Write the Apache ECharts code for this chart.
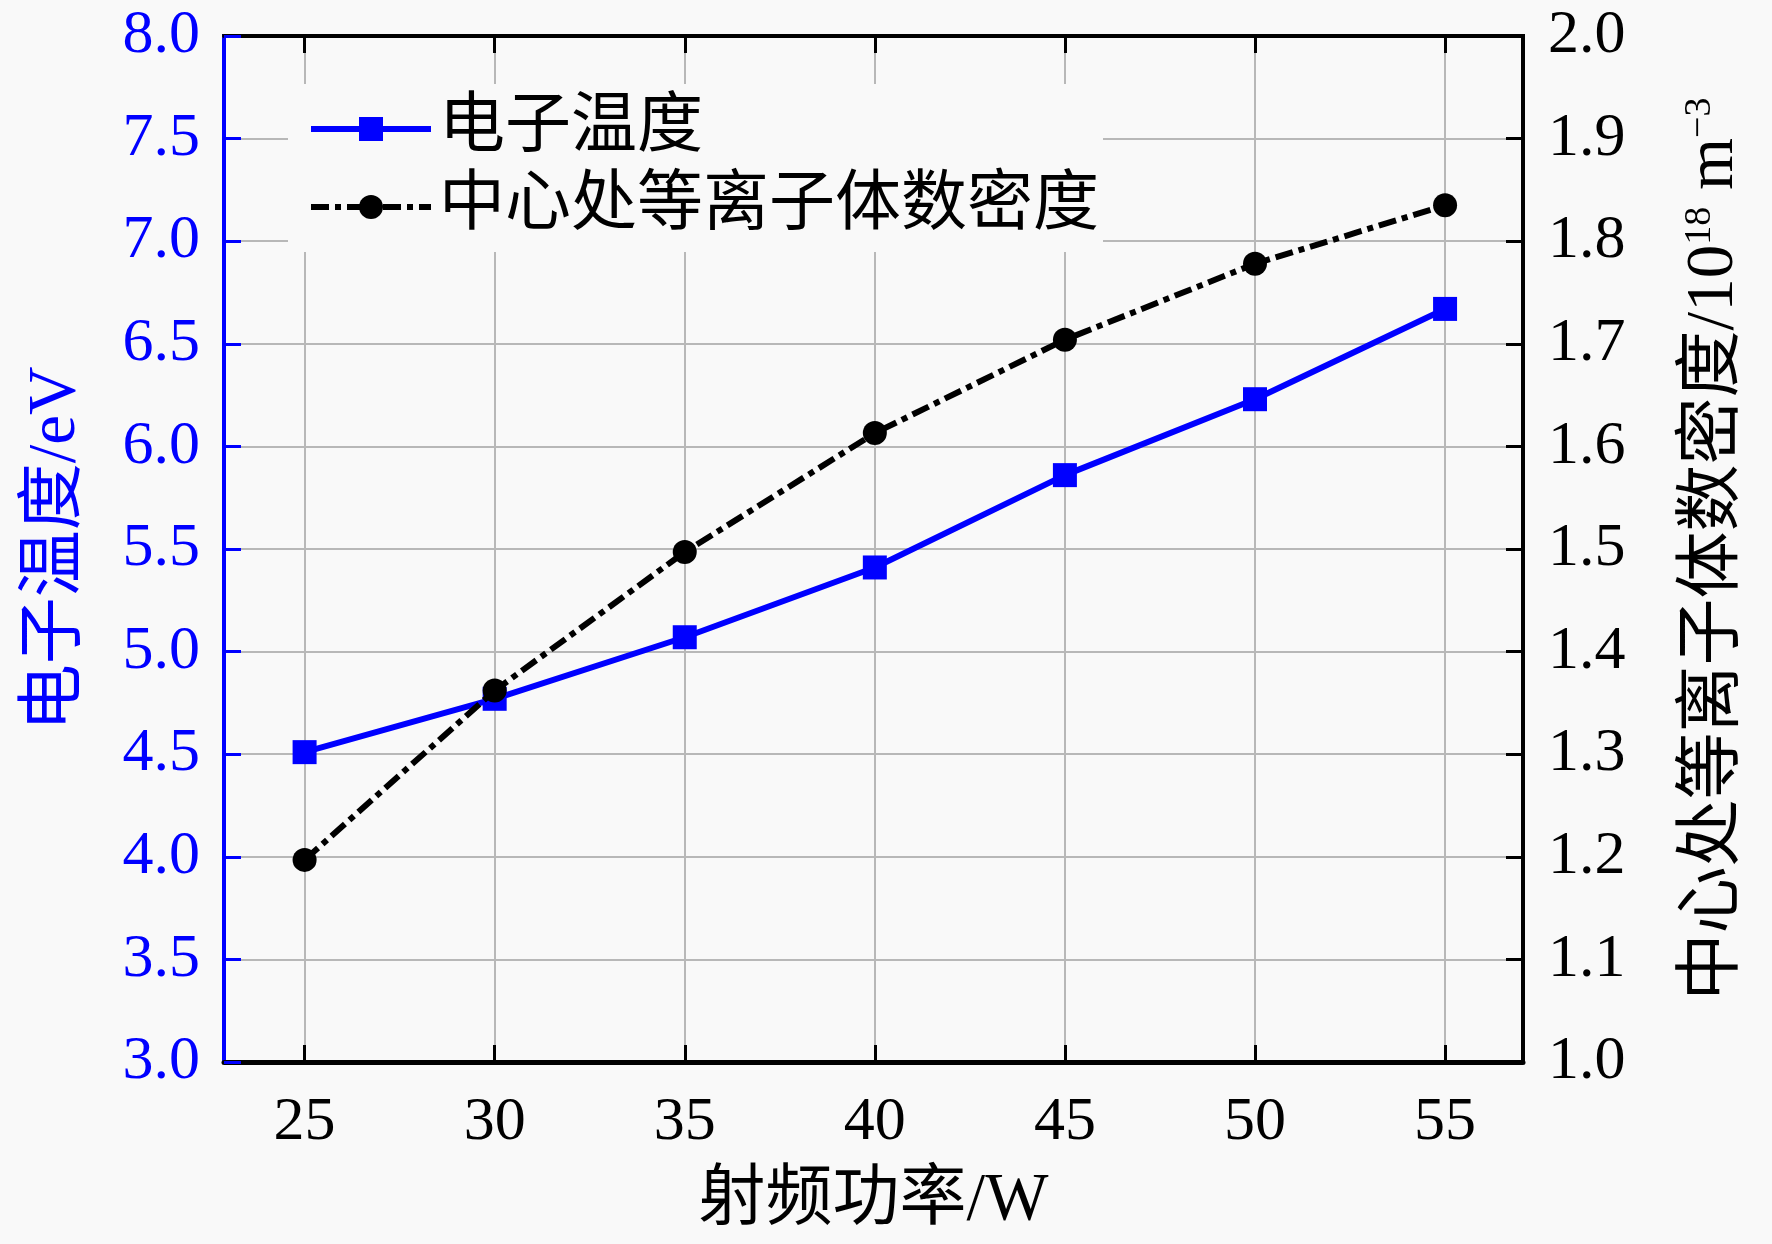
<!DOCTYPE html>
<html>
<head>
<meta charset="utf-8">
<script src="https://cdn.jsdelivr.net/npm/echarts@6/dist/echarts.min.js"></script>
<style>
html,body{margin:0;padding:0;background:#f9f9f9;}
#c{width:1772px;height:1244px;}
</style>
</head>
<body>
<div id="c"></div>
<script>
const powers = [25, 30, 35, 40, 45, 50, 55];
const electronTemp = [4.51, 4.77, 5.07, 5.41, 5.86, 6.23, 6.67];
const densityCenter = [1.197, 1.362, 1.497, 1.613, 1.704, 1.778, 1.835];
const xTicks = [25, 30, 35, 40, 45, 50, 55];
const nameTemp = '电子温度';
const nameDens = '中心处等离子体数密度';

const FONT = "'Liberation Serif','Times New Roman','Noto Sans CJK SC',serif";
const BLUE = '#0000ff';
const GRID = '#b8b8b8';

const chart = echarts.init(document.getElementById('c'));
chart.setOption({
  backgroundColor: '#f9f9f9',
  animation: false,
  textStyle: { fontFamily: FONT },
  grid: { left: 224, right: 249, top: 36, bottom: 182, show: true, borderColor: '#000', borderWidth: 4, outerBoundsMode: 'none' },
  legend: {
    left: 288, top: 84,
    orient: 'vertical',
    backgroundColor: '#f9f9f9',
    padding: [12, 4, 12, 20],
    itemWidth: 120, itemHeight: 30, itemGap: 12,
    lineStyle: { width: 6 },
    textStyle: { fontFamily: FONT, fontSize: 66, color: '#000', lineHeight: 66, padding: [0, 0, 0, 3] },
    data: [nameTemp, nameDens]
  },
  xAxis: [{
    type: 'value', min: 22.88, max: 57.05, position: 'bottom',
    name: '射频功率/W', nameLocation: 'middle', nameGap: 106,
    nameTextStyle: { fontFamily: FONT, fontSize: 67, color: '#000' },
    axisLine: { show: true, lineStyle: { color: '#000', width: 5 } },
    axisTick: { show: true, inside: true, length: 17, lineStyle: { color: '#000', width: 3 }, customValues: xTicks },
    axisLabel: { fontFamily: FONT, fontSize: 62, color: '#000', margin: 30, customValues: xTicks },
    splitLine: { show: true, lineStyle: { color: GRID, width: 2 } }
  }, {
    type: 'value', min: 22.88, max: 57.05, position: 'top',
    axisLine: { show: true, lineStyle: { color: '#000', width: 4 } },
    axisTick: { show: true, inside: true, length: 17, lineStyle: { color: '#000', width: 3 }, customValues: xTicks },
    axisLabel: { show: false },
    splitLine: { show: false }
  }],
  yAxis: [{
    type: 'value', min: 3, max: 8, interval: 0.5, position: 'left',
    name: '电子温度/eV', nameLocation: 'middle', nameRotate: 90, nameGap: 134,
    nameTextStyle: { fontFamily: FONT, fontSize: 67, color: BLUE },
    axisLine: { show: true, lineStyle: { color: BLUE, width: 4 } },
    axisTick: { show: true, inside: true, length: 17, lineStyle: { color: BLUE, width: 3 } },
    axisLabel: { fontFamily: FONT, fontSize: 62, color: BLUE, margin: 24, formatter: v => v.toFixed(1) },
    splitLine: { show: true, lineStyle: { color: GRID, width: 2 } }
  }, {
    type: 'value', min: 1, max: 2, interval: 0.1, position: 'right',
    name: '中心处等离子体数密度/10{sup|18} m{sup|−3}', nameLocation: 'middle', nameRotate: 90, nameGap: 158,
    nameTextStyle: { fontFamily: FONT, fontSize: 67, color: '#000',
      rich: { sup: { fontFamily: FONT, fontSize: 38, color: '#000', verticalAlign: 'top', lineHeight: 67 } } },
    axisLine: { show: true, lineStyle: { color: '#000', width: 4 } },
    axisTick: { show: true, inside: true, length: 17, lineStyle: { color: '#000', width: 3 } },
    axisLabel: { fontFamily: FONT, fontSize: 62, color: '#000', margin: 25, formatter: v => v.toFixed(1) },
    splitLine: { show: false }
  }],
  series: [{
    name: nameTemp, type: 'line', xAxisIndex: 0, yAxisIndex: 0,
    data: powers.map((p, i) => [p, electronTemp[i]]),
    symbol: 'rect', symbolSize: 24,
    itemStyle: { color: BLUE },
    lineStyle: { color: BLUE, width: 6 },
    z: 3
  }, {
    name: nameDens, type: 'line', xAxisIndex: 0, yAxisIndex: 1,
    data: powers.map((p, i) => [p, densityCenter[i]]),
    symbol: 'circle', symbolSize: 24,
    itemStyle: { color: '#000' },
    lineStyle: { color: '#000', width: 6, type: [18, 6, 6, 6] },
    z: 4
  }]
});
</script>
</body>
</html>
